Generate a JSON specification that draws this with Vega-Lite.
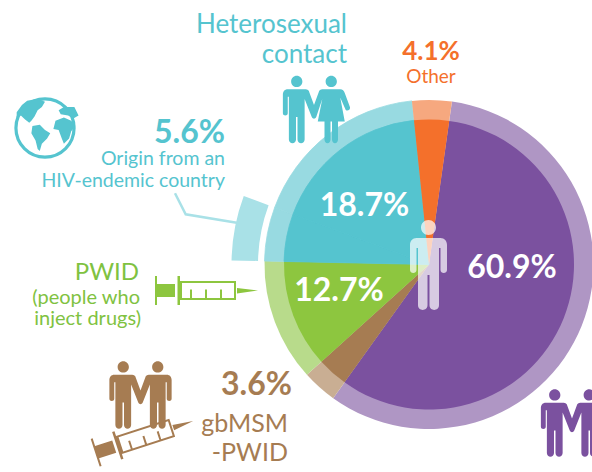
{
"$schema":"https://vega.github.io/schema/vega-lite/v6.json",
"width":592,"height":472,
"autosize":{"type":"none"},
"padding":0,
"background":"#ffffff",
"view":{"stroke":null},
"config":{"axis":{"disable":true},"legend":{"disable":true},"text":{"font":"Lato"}},
"datasets":{
"shares":[
{"group":"MSM","value":60.9,"rank":1},
{"group":"gbMSM-PWID","value":3.6,"rank":2},
{"group":"PWID","value":12.7,"rank":3},
{"group":"Origin from an HIV-endemic country","value":5.6,"rank":4},
{"group":"Heterosexual contact","value":18.7,"rank":5},
{"group":"Other","value":4.1,"rank":6}
]},
"layer":[
{"data":{"name":"shares"},"mark":{"type":"arc","stroke":"#98DAE1"},
"encoding":{"theta":{"field":"value","type":"quantitative","stack":true,"scale":{"range":[0.14,6.423]}},"order":{"field":"rank"},
"radius":{"datum":164.5,"scale":null},"radius2":{"datum":0,"scale":null},
"strokeWidth":{"condition":{"test":"datum.rank===4||datum.rank===5","value":0.8},"value":0},
"x":{"datum":429,"type":"quantitative","scale":{"domain":[0,592],"nice":false,"zero":false}},
"y":{"datum":264.5,"type":"quantitative","scale":{"domain":[0,472],"nice":false,"zero":false,"reverse":true}},
"color":{"field":"group","scale":{"domain":["MSM","gbMSM-PWID","PWID","Origin from an HIV-endemic country","Heterosexual contact","Other"],"range":["#AF96C4","#C9AE93","#B8DB8B","#98DAE1","#98DAE1","#F6A87F"]}}}},
{"data":{"name":"shares"},"mark":{"type":"arc","stroke":"#55C4CF"},
"encoding":{"theta":{"field":"value","type":"quantitative","stack":true,"scale":{"range":[0.14,6.423]}},"order":{"field":"rank"},
"radius":{"datum":145,"scale":null},"radius2":{"datum":0,"scale":null},
"strokeWidth":{"condition":{"test":"datum.rank===4||datum.rank===5","value":0.8},"value":0},
"x":{"datum":429,"type":"quantitative"},"y":{"datum":264.5,"type":"quantitative"},
"fill":{"field":"group","scale":{"domain":["MSM","gbMSM-PWID","PWID","Origin from an HIV-endemic country","Heterosexual contact","Other"],"range":["#7B519F","#A67C52","#8DC63F","#55C4CF","#55C4CF","#F4702B"]}}}},
{"data":{"name":"shares"},"mark":{"type":"arc"},
"encoding":{"theta":{"field":"value","type":"quantitative","stack":true,"scale":{"range":[0.14,6.423]}},"order":{"field":"rank"},
"radius":{"datum":197.5,"scale":null},"radius2":{"datum":171,"scale":null},
"x":{"datum":429,"type":"quantitative"},"y":{"datum":264.5,"type":"quantitative"},
"opacity":{"condition":{"test":"datum.rank===4","value":1},"value":0},
"fill":{"value":"#A9E1E7"}}},
{"data":{"values":[{"icon":"leader"}]},"mark":{"type":"point","filled":false,"size":4,"stroke":"#A9E1E7","strokeWidth":2.5,"opacity":1,"shape":"M-30,-14.7L-19.3,6.3L31.7,14.7"},
"encoding":{"x":{"datum":205,"type":"quantitative"},"y":{"datum":208,"type":"quantitative"}}},
{"data":{"values":[{"icon":"globe ring"}]},"mark":{"type":"point","filled":false,"size":3380,"shape":"circle","stroke":"#55C4CF","strokeWidth":3.2,"opacity":1},
"encoding":{"x":{"datum":45,"type":"quantitative"},"y":{"datum":128,"type":"quantitative"}}},
{"data":{"values":[{"icon":"globe land"}]},"mark":{"type":"point","filled":true,"size":4.4,"fill":"#55C4CF","opacity":1,"shape":"M-17,-26L-7,-28L0,-25L-3,-20L-7,-17L-10,-11L-13,-7L-15,-5L-19,-8L-23,-12L-27,-10L-27,-15L-22,-22ZM-12,-2L-5,-3L0,2L5,5L2,10L-3,15L-5,22L-7,20L-9,12L-13,5ZM10,-7L18,-10L25,-7L29,-2L25,3L23,10L18,15L16,10L13,2L8,1ZM13,-17L18,-20L28,-20L32,-12L27,-9L22,-12L15,-13Z"},
"encoding":{"x":{"datum":45,"type":"quantitative"},"y":{"datum":128,"type":"quantitative"}}},
{"data":{"values":[{"icon":"person"}]},"mark":{"type":"point","filled":true,"size":4,"fill":"#ffffff","opacity":0.7,"shape":"M-12,-27L12,-27C16,-27 18.5,-24 18.5,-20L18.5,5C18.5,9 12,9 12,5L12,-17L10.5,-17L10.5,40C10.5,46.5 1,46.5 1,40L1,10L-1,10L-1,40C-1,46.5 -10.5,46.5 -10.5,40L-10.5,-17L-12,-17L-12,5C-12,9 -18.5,9 -18.5,5L-18.5,-20C-18.5,-24 -16,-27 -12,-27ZM0,-45C4.2,-45 7.5,-41.7 7.5,-37.5C7.5,-33.3 4.2,-30 0,-30C-4.2,-30 -7.5,-33.3 -7.5,-37.5C-7.5,-41.7 -4.2,-45 0,-45Z"},
"encoding":{"x":{"datum":428.5,"type":"quantitative"},"y":{"datum":265,"type":"quantitative"}}},
{"data":{"values":[{"icon":"syringe"}]},"mark":{"type":"point","filled":true,"size":4,"fill":"#8DC63F","opacity":1,"shape":"M-51,-14.5L-49,-14.5L-49,-6.5L-31,-6.5L-31,6.5L-49,6.5L-49,14.5L-51,14.5ZM-28.5,-14.5L-26,-14.5L-26,-9.5L30,-9.5L30,9.5L-26,9.5L-26,14.5L-28.5,14.5ZM-24,-7.5L-24,7.5L28,7.5L28,-7.5ZM-16,-1L-14,-1L-14,8L-16,8ZM-1,-1L1,-1L1,8L-1,8ZM14,-1L16,-1L16,8L14,8ZM31,-2.5L52,0L31,3Z"},
"encoding":{"x":{"datum":206,"type":"quantitative"},"y":{"datum":290.5,"type":"quantitative"}}},
{"data":{"values":[{"icon":"syringe"}]},"mark":{"type":"point","filled":true,"size":4,"fill":"#A67C52","opacity":1,"angle":-18,"shape":"M-51,-14.5L-49,-14.5L-49,-6.5L-31,-6.5L-31,6.5L-49,6.5L-49,14.5L-51,14.5ZM-28.5,-14.5L-26,-14.5L-26,-9.5L30,-9.5L30,9.5L-26,9.5L-26,14.5L-28.5,14.5ZM-24,-7.5L-24,7.5L28,7.5L28,-7.5ZM-16,-1L-14,-1L-14,8L-16,8ZM-1,-1L1,-1L1,8L-1,8ZM14,-1L16,-1L16,8L14,8ZM31,-2.5L52,0L31,3Z"},
"encoding":{"x":{"datum":143.7,"type":"quantitative"},"y":{"datum":437,"type":"quantitative"}}},
{"data":{"values":[{"icon":"couple"}]},"mark":{"type":"point","filled":true,"size":2.25,"fill":"#A67C52","opacity":1,"shape":"M-35,-27L-11,-27C-9,-27 -8,-26 -7,-25L0,-6L7,-25C8,-26 9,-27 11,-27L35,-27C39,-27 41.5,-24 41.5,-20L41.5,5C41.5,9 35,9 35,5L35,-17L33.5,-17L33.5,40C33.5,46.5 24,46.5 24,40L24,10L22,10L22,40C22,46.5 12.5,46.5 12.5,40L12.5,-14L3,10C1.5,13 -1.5,13 -3,10L-12.5,-14L-12.5,40C-12.5,46.5 -22,46.5 -22,40L-22,10L-24,10L-24,40C-24,46.5 -33.5,46.5 -33.5,40L-33.5,-17L-35,-17L-35,5C-35,9 -41.5,9 -41.5,5L-41.5,-20C-41.5,-24 -39,-27 -35,-27ZM-23,-45C-18.8,-45 -15.5,-41.7 -15.5,-37.5C-15.5,-33.3 -18.8,-30 -23,-30C-27.2,-30 -30.5,-33.3 -30.5,-37.5C-30.5,-41.7 -27.2,-45 -23,-45ZM23,-45C27.2,-45 30.5,-41.7 30.5,-37.5C30.5,-33.3 27.2,-30 23,-30C18.8,-30 15.5,-33.3 15.5,-37.5C15.5,-41.7 18.8,-45 23,-45Z"},
"encoding":{"x":{"datum":140.5,"type":"quantitative"},"y":{"datum":395,"type":"quantitative"}}},
{"data":{"values":[{"icon":"couple"}]},"mark":{"type":"point","filled":true,"size":2.25,"fill":"#7B519F","opacity":1,"shape":"M-35,-27L-11,-27C-9,-27 -8,-26 -7,-25L0,-6L7,-25C8,-26 9,-27 11,-27L35,-27C39,-27 41.5,-24 41.5,-20L41.5,5C41.5,9 35,9 35,5L35,-17L33.5,-17L33.5,40C33.5,46.5 24,46.5 24,40L24,10L22,10L22,40C22,46.5 12.5,46.5 12.5,40L12.5,-14L3,10C1.5,13 -1.5,13 -3,10L-12.5,-14L-12.5,40C-12.5,46.5 -22,46.5 -22,40L-22,10L-24,10L-24,40C-24,46.5 -33.5,46.5 -33.5,40L-33.5,-17L-35,-17L-35,5C-35,9 -41.5,9 -41.5,5L-41.5,-20C-41.5,-24 -39,-27 -35,-27ZM-23,-45C-18.8,-45 -15.5,-41.7 -15.5,-37.5C-15.5,-33.3 -18.8,-30 -23,-30C-27.2,-30 -30.5,-33.3 -30.5,-37.5C-30.5,-41.7 -27.2,-45 -23,-45ZM23,-45C27.2,-45 30.5,-41.7 30.5,-37.5C30.5,-33.3 27.2,-30 23,-30C18.8,-30 15.5,-33.3 15.5,-37.5C15.5,-41.7 18.8,-45 23,-45Z"},
"encoding":{"x":{"datum":572,"type":"quantitative"},"y":{"datum":423,"type":"quantitative"}}},
{"data":{"values":[{"icon":"hetero couple"}]},"mark":{"type":"point","filled":true,"size":2.25,"fill":"#55C4CF","opacity":1,"shape":"M-35,-27L-11,-27C-9,-27 -8,-26 -7,-25L0,-6L7,-25C8,-26 9,-27 11,-27L35,-27C38,-27 40,-25 41,-22L48,-3C49,1 43,3 42,0L35,-16L41,16L32,16L32,40C32,46.5 24,46.5 24,40L24,16L22,16L22,40C22,46.5 14,46.5 14,40L14,16L5,16L11,-14L3,10C1.5,13 -1.5,13 -3,10L-12.5,-14L-12.5,40C-12.5,46.5 -22,46.5 -22,40L-22,10L-24,10L-24,40C-24,46.5 -33.5,46.5 -33.5,40L-33.5,-17L-35,-17L-35,5C-35,9 -41.5,9 -41.5,5L-41.5,-20C-41.5,-24 -39,-27 -35,-27ZM-23,-45C-18.8,-45 -15.5,-41.7 -15.5,-37.5C-15.5,-33.3 -18.8,-30 -23,-30C-27.2,-30 -30.5,-33.3 -30.5,-37.5C-30.5,-41.7 -27.2,-45 -23,-45ZM23,-45C27.2,-45 30.5,-41.7 30.5,-37.5C30.5,-33.3 27.2,-30 23,-30C18.8,-30 15.5,-33.3 15.5,-37.5C15.5,-41.7 18.8,-45 23,-45Z"},
"encoding":{"x":{"datum":314,"type":"quantitative"},"y":{"datum":109.5,"type":"quantitative"}}},
{"data":{"values":[{"t":"Heterosexual"}]},"mark":{"type":"text","align":"right","baseline":"alphabetic","fontSize":26,"color":"#55C4CF"},"encoding":{"text":{"field":"t"},"x":{"datum":347,"type":"quantitative"},"y":{"datum":33,"type":"quantitative"}}},
{"data":{"values":[{"t":"contact"}]},"mark":{"type":"text","align":"right","baseline":"alphabetic","fontSize":26,"color":"#55C4CF"},"encoding":{"text":{"field":"t"},"x":{"datum":347,"type":"quantitative"},"y":{"datum":63,"type":"quantitative"}}},
{"data":{"values":[{"t":"5.6%"}]},"mark":{"type":"text","align":"right","baseline":"alphabetic","fontSize":32,"fontWeight":"bold","color":"#55C4CF"},"encoding":{"text":{"field":"t"},"x":{"datum":225,"type":"quantitative"},"y":{"datum":143,"type":"quantitative"}}},
{"data":{"values":[{"t":"Origin from an"}]},"mark":{"type":"text","align":"right","baseline":"alphabetic","fontSize":19.5,"color":"#55C4CF"},"encoding":{"text":{"field":"t"},"x":{"datum":225,"type":"quantitative"},"y":{"datum":165,"type":"quantitative"}}},
{"data":{"values":[{"t":"HIV-endemic country"}]},"mark":{"type":"text","align":"right","baseline":"alphabetic","fontSize":19.5,"color":"#55C4CF"},"encoding":{"text":{"field":"t"},"x":{"datum":225,"type":"quantitative"},"y":{"datum":187,"type":"quantitative"}}},
{"data":{"values":[{"t":"4.1%"}]},"mark":{"type":"text","align":"center","baseline":"alphabetic","fontSize":26,"fontWeight":"bold","color":"#F4702B"},"encoding":{"text":{"field":"t"},"x":{"datum":431,"type":"quantitative"},"y":{"datum":60,"type":"quantitative"}}},
{"data":{"values":[{"t":"Other"}]},"mark":{"type":"text","align":"center","baseline":"alphabetic","fontSize":19,"color":"#F4702B"},"encoding":{"text":{"field":"t"},"x":{"datum":431,"type":"quantitative"},"y":{"datum":83,"type":"quantitative"}}},
{"data":{"values":[{"t":"18.7%"}]},"mark":{"type":"text","align":"center","baseline":"alphabetic","fontSize":32,"fontWeight":"bold","color":"#ffffff"},"encoding":{"text":{"field":"t"},"x":{"datum":364.5,"type":"quantitative"},"y":{"datum":216,"type":"quantitative"}}},
{"data":{"values":[{"t":"60.9%"}]},"mark":{"type":"text","align":"center","baseline":"alphabetic","fontSize":32,"fontWeight":"bold","color":"#ffffff"},"encoding":{"text":{"field":"t"},"x":{"datum":512,"type":"quantitative"},"y":{"datum":278,"type":"quantitative"}}},
{"data":{"values":[{"t":"12.7%"}]},"mark":{"type":"text","align":"center","baseline":"alphabetic","fontSize":32,"fontWeight":"bold","color":"#ffffff"},"encoding":{"text":{"field":"t"},"x":{"datum":339,"type":"quantitative"},"y":{"datum":301,"type":"quantitative"}}},
{"data":{"values":[{"t":"PWID"}]},"mark":{"type":"text","align":"right","baseline":"alphabetic","fontSize":24,"color":"#7FC241"},"encoding":{"text":{"field":"t"},"x":{"datum":139,"type":"quantitative"},"y":{"datum":280,"type":"quantitative"}}},
{"data":{"values":[{"t":"(people who"}]},"mark":{"type":"text","align":"right","baseline":"alphabetic","fontSize":20,"color":"#7FC241"},"encoding":{"text":{"field":"t"},"x":{"datum":140,"type":"quantitative"},"y":{"datum":304,"type":"quantitative"}}},
{"data":{"values":[{"t":"inject drugs)"}]},"mark":{"type":"text","align":"right","baseline":"alphabetic","fontSize":20,"color":"#7FC241"},"encoding":{"text":{"field":"t"},"x":{"datum":141,"type":"quantitative"},"y":{"datum":325,"type":"quantitative"}}},
{"data":{"values":[{"t":"3.6%"}]},"mark":{"type":"text","align":"right","baseline":"alphabetic","fontSize":32,"fontWeight":"bold","color":"#A67C52"},"encoding":{"text":{"field":"t"},"x":{"datum":292,"type":"quantitative"},"y":{"datum":395,"type":"quantitative"}}},
{"data":{"values":[{"t":"gbMSM"}]},"mark":{"type":"text","align":"right","baseline":"alphabetic","fontSize":25,"color":"#A67C52"},"encoding":{"text":{"field":"t"},"x":{"datum":288,"type":"quantitative"},"y":{"datum":432,"type":"quantitative"}}},
{"data":{"values":[{"t":"-PWID"}]},"mark":{"type":"text","align":"right","baseline":"alphabetic","fontSize":25,"color":"#A67C52"},"encoding":{"text":{"field":"t"},"x":{"datum":288,"type":"quantitative"},"y":{"datum":461,"type":"quantitative"}}}
]
}
